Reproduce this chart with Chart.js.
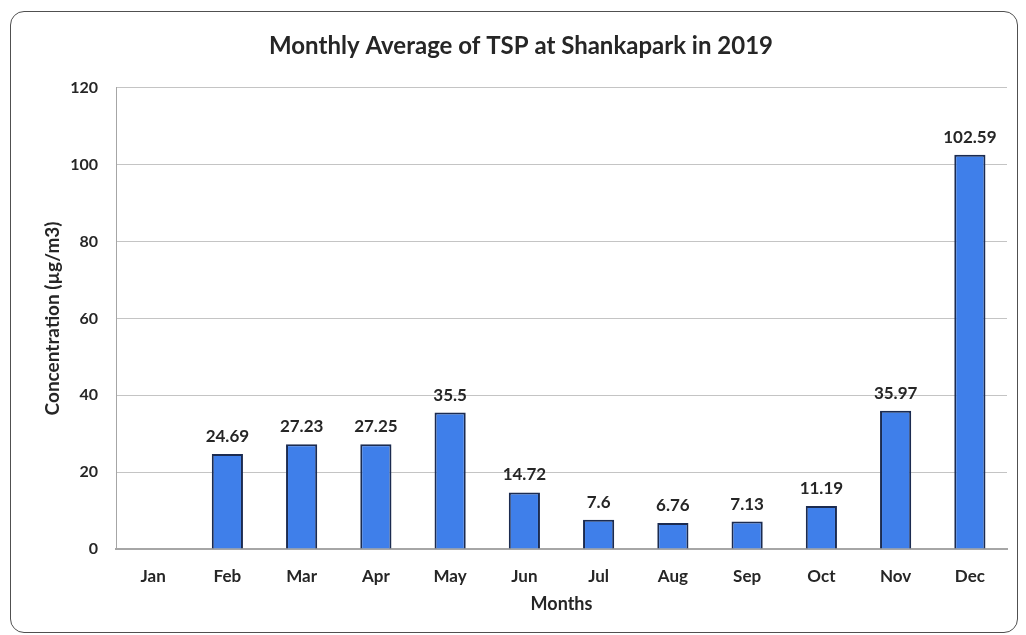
<!DOCTYPE html>
<html>
<head>
<meta charset="utf-8">
<script src="https://cdn.jsdelivr.net/npm/chart.js@4/dist/chart.umd.min.js"></script>
<style>
  html, body { margin: 0; padding: 0; background: #fff; }
  #frame {
    position: absolute; left: 10px; top: 11px; width: 1008px; height: 622px;
    border: 1px solid #505050; border-radius: 14px; box-sizing: border-box; overflow: hidden;
  }
  #wrap { position: absolute; left: 0; top: 0; width: 1006px; height: 621px; }
</style>
</head>
<body>
<div id="frame"><div id="wrap"><canvas id="tspChart"></canvas></div></div>
<script>
// data
const months = ['Jan', 'Feb', 'Mar', 'Apr', 'May', 'Jun', 'Jul', 'Aug', 'Sep', 'Oct', 'Nov', 'Dec'];
const tspValues = [null, 24.69, 27.23, 27.25, 35.5, 14.72, 7.6, 6.76, 7.13, 11.19, 35.97, 102.59];
const yTicks = [0, 20, 40, 60, 80, 100, 120];

const FONT = "Lato, 'Open Sans', sans-serif";

// value labels above each bar
const barLabels = {
  id: 'barLabels',
  afterDatasetsDraw(chart) {
    const ctx = chart.ctx;
    const meta = chart.getDatasetMeta(0);
    ctx.save();
    ctx.font = "bold 17px " + FONT;
    ctx.fillStyle = '#262626';
    ctx.textAlign = 'center';
    ctx.textBaseline = 'bottom';
    meta.data.forEach((bar, i) => {
      const v = tspValues[i];
      if (v === null) return;
      ctx.fillText(String(v), bar.x, bar.y - 9);
    });
    ctx.restore();
  }
};

new Chart(document.getElementById('tspChart'), {
  type: 'bar',
  data: {
    labels: months,
    datasets: [{
      data: tspValues,
      backgroundColor: '#3f7fea',
      borderColor: '#1b2b50',
      borderWidth: 2,
      barPercentage: 0.42,
      categoryPercentage: 1
    }]
  },
  options: {
    responsive: true,
    maintainAspectRatio: false,
    animation: false,
    layout: { padding: { left: 24, right: 10, top: 0, bottom: 0 } },
    plugins: {
      legend: { display: false },
      tooltip: { enabled: false },
      title: {
        display: true,
        text: 'Monthly Average of TSP at Shankapark in 2019',
        color: '#262626',
        font: { family: FONT, size: 24, weight: 'bold' },
        padding: { top: 20, bottom: 27 }
      }
    },
    scales: {
      x: {
        grid: { display: false, drawTicks: false },
        border: { display: true, color: '#a6a6a6', width: 2 },
        ticks: { color: '#262626', font: { family: FONT, size: 17, weight: 'bold' }, padding: 17 },
        title: {
          display: true, text: 'Months', color: '#262626',
          font: { family: FONT, size: 18, weight: 'bold' },
          padding: { top: 0, bottom: 18 }
        },
        afterFit(scale) { scale.height = 84; }
      },
      y: {
        min: 0,
        max: 120,
        afterBuildTicks(scale) { scale.ticks = yTicks.map(v => ({ value: v })); },
        grid: { color: '#c4c4c4', drawTicks: false },
        border: { display: true, color: '#a6a6a6', width: 1 },
        ticks: { color: '#262626', font: { family: FONT, size: 16, weight: 'bold' }, padding: 18 },
        title: {
          display: true, text: 'Concentration (µg/m3)', color: '#262626',
          font: { family: FONT, size: 19, weight: 'bold' },
          padding: { top: 6, bottom: 0 }
        },
        afterFit(scale) { scale.width = 81; }
      }
    }
  },
  plugins: [barLabels]
});
</script>
</body>
</html>
